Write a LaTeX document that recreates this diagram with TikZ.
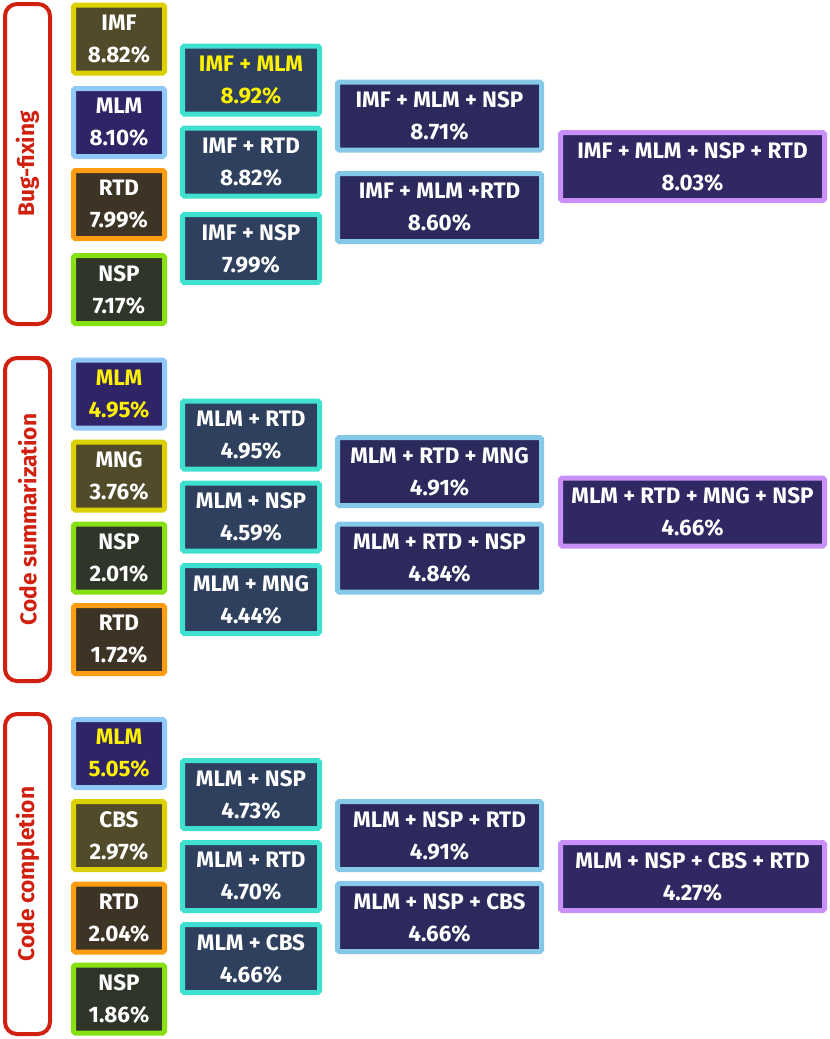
\documentclass[tikz,border=0pt]{standalone}
\usepackage{fontspec}
\setmainfont{Fira Sans}
\definecolor{olivefill}{HTML}{524B2A}
\definecolor{oliveline}{HTML}{DDD000}
\definecolor{indfill}{HTML}{2E2466}
\definecolor{indline}{HTML}{90C8F8}
\definecolor{brnfill}{HTML}{3D3425}
\definecolor{brnline}{HTML}{FF9D12}
\definecolor{grnfill}{HTML}{2F3529}
\definecolor{grnline}{HTML}{86E012}
\definecolor{twofill}{HTML}{2E405E}
\definecolor{twoline}{HTML}{40E0D0}
\definecolor{thrfill}{HTML}{2C2A5C}
\definecolor{thrline}{HTML}{85C8E8}
\definecolor{fourfill}{HTML}{2F2862}
\definecolor{fourline}{HTML}{C890F8}
\definecolor{hiyellow}{HTML}{FFF200}
\definecolor{taskred}{HTML}{D0200F}
\tikzset{
  box/.style={rectangle, rounded corners=1.2pt, line width=3.75pt, minimum height=51pt,
    inner sep=0pt, align=center, text=white,
    font=\fontsize{16.8}{24}\selectfont\bfseries},
  cone/.style={box, minimum width=68.25pt},
  ctwo/.style={box, minimum width=102.75pt, fill=twofill, draw=twoline},
  cthree/.style={box, minimum width=153pt, fill=thrfill, draw=thrline},
  cfour/.style={box, minimum width=198pt, fill=fourfill, draw=fourline},
  olv/.style={cone, fill=olivefill, draw=oliveline},
  ind/.style={cone, fill=indfill, draw=indline},
  brn/.style={cone, fill=brnfill, draw=brnline},
  grn/.style={cone, fill=grnfill, draw=grnline},
  hi/.style={text=hiyellow},
  task/.style={rectangle, rounded corners=9pt, line width=3pt, draw=taskred,
    minimum width=33.75pt, inner sep=0pt},
  tasklabel/.style={rotate=90, text=taskred, font=\fontsize{17}{20}\selectfont\bfseries}
}
\begin{document}
\begin{tikzpicture}[x=0.75pt, y=-0.75pt]
\useasboundingbox (0,0) rectangle (830,1039);
% ---- Bug-fixing ----
\node[task, minimum height=240pt] (t1) at (27.5,164) {};
\node[tasklabel] (t1l) at (t1.center) {Bug-fixing};
\node[olv] (a1) at (119,39) {IMF\\8.82\%};
\node[ind] (a2) at (119,122.5) {MLM\\8.10\%};
\node[brn] (a3) at (119,204.5) {RTD\\7.99\%};
\node[grn] (a4) at (119,289.5) {NSP\\7.17\%};
\node[ctwo, hi] (b1) at (251,80) {IMF + MLM\\8.92\%};
\node[ctwo] (b2) at (251,162) {IMF + RTD\\8.82\%};
\node[ctwo] (b3) at (251,248.5) {IMF + NSP\\7.99\%};
\node[cthree] (c1) at (439.5,116) {IMF + MLM + NSP\\8.71\%};
\node[cthree] (c2) at (439.5,207.5) {IMF + MLM +RTD\\8.60\%};
\node[cfour] (d1) at (692.5,166.5) {IMF + MLM + NSP + RTD\\8.03\%};
% ---- Code summarization ----
\node[task, minimum height=242.25pt] (t2) at (27.5,519.5) {};
\node[tasklabel] (t2l) at (t2.center) {Code summarization};
\node[ind, hi] (e1) at (119,394) {MLM\\4.95\%};
\node[olv] (e2) at (119,476) {MNG\\3.76\%};
\node[grn] (e3) at (119,558) {NSP\\2.01\%};
\node[brn] (e4) at (119,639.5) {RTD\\1.72\%};
\node[ctwo] (f1) at (251,435) {MLM + RTD\\4.95\%};
\node[ctwo] (f2) at (251,517) {MLM + NSP\\4.59\%};
\node[ctwo] (f3) at (251,599.5) {MLM + MNG\\4.44\%};
\node[cthree] (g1) at (439.5,471.5) {MLM + RTD + MNG\\4.91\%};
\node[cthree] (g2) at (439.5,558) {MLM + RTD + NSP\\4.84\%};
\node[cfour] (h1) at (692.5,512) {MLM + RTD + MNG + NSP\\4.66\%};
% ---- Code completion ----
\node[task, minimum height=240pt] (t3) at (27.5,874) {};
\node[tasklabel] (t3l) at (t3.center) {Code completion};
\node[ind, hi] (i1) at (119,753.5) {MLM\\5.05\%};
\node[olv] (i2) at (119,835.5) {CBS\\2.97\%};
\node[brn] (i3) at (119,918) {RTD\\2.04\%};
\node[grn] (i4) at (119,999) {NSP\\1.86\%};
\node[ctwo] (j1) at (251,794.5) {MLM + NSP\\4.73\%};
\node[ctwo] (j2) at (251,876.5) {MLM + RTD\\4.70\%};
\node[ctwo] (j3) at (251,958.5) {MLM + CBS\\4.66\%};
\node[cthree] (k1) at (439.5,835.5) {MLM + NSP + RTD\\4.91\%};
\node[cthree] (k2) at (439.5,917.5) {MLM + NSP + CBS\\4.66\%};
\node[cfour] (l1) at (692.5,876.5) {MLM + NSP + CBS + RTD\\4.27\%};
\end{tikzpicture}
\end{document}
